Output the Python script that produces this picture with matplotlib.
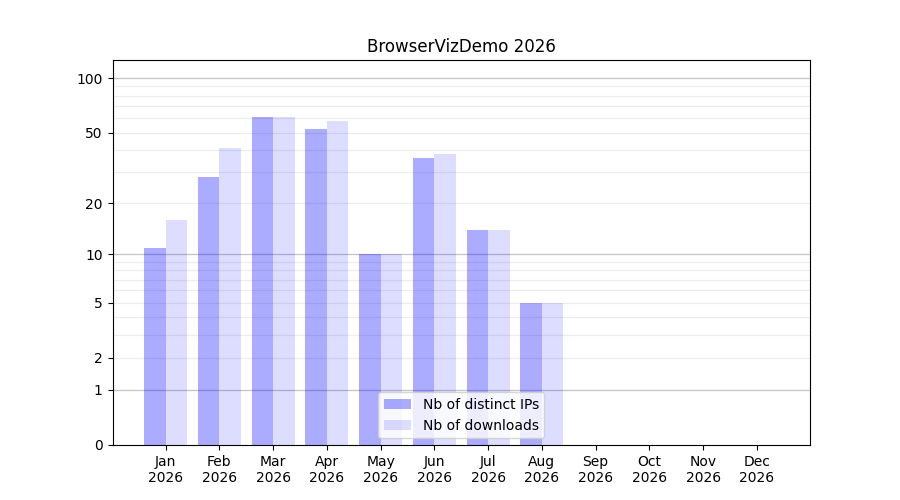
import numpy as np
import matplotlib
matplotlib.use('Agg')
import matplotlib.pyplot as plt

months=['Jan','Feb','Mar','Apr','May','Jun','Jul','Aug','Sep','Oct','Nov','Dec']
year='2026'
ips=[11,28,61,52,10,36,14,5,0,0,0,0]
downloads=[16,41,61,58,10,38,14,5,0,0,0,0]
yticks=[0,1,2,5,10,20,50,100]

def fwd(x):
    return np.log10(np.maximum(x,0)+1)
def inv(y):
    return 10**y-1

fig,ax=plt.subplots(figsize=(9,5),dpi=100)
ax.set_yscale('function',functions=(fwd,inv))
x=np.arange(len(months))

# grid lines: decades darker, the rest light
for d in [1,10,100]:
    ax.axhline(d,color='#c4c4c4',linewidth=0.9,zorder=0)
    for k in range(2,10):
        ax.axhline(d*k,color='#ececec',linewidth=0.8,zorder=0)

ax.bar(x-0.2,ips,width=0.4,color='blue',alpha=0.33,label='Nb of distinct IPs',zorder=1)
ax.bar(x+0.2,downloads,width=0.4,color='blue',alpha=0.135,label='Nb of downloads',zorder=1)

ax.set_xticks(x)
ax.set_xticklabels([m+'\n'+year for m in months])
ax.set_yticks(yticks)
ax.set_yticklabels([str(t) for t in yticks])
ax.yaxis.set_minor_locator(matplotlib.ticker.NullLocator())
ax.set_ylim(0,126)
ax.set_title('BrowserVizDemo 2026')
ax.legend(loc='lower center')
plt.savefig('out.png')
